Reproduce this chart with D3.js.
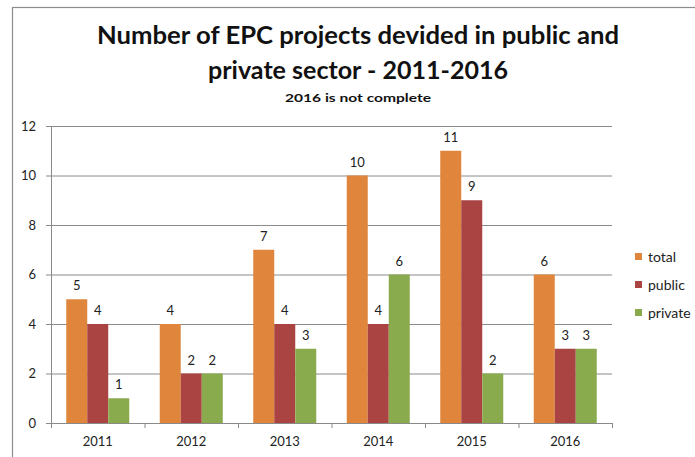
<!DOCTYPE html>
<html>
<head>
<meta charset="utf-8">
<script src="https://cdn.jsdelivr.net/npm/d3@7"></script>
<style>
  body { margin: 0; background: #fff; }
  text { font-family: Lato, "Open Sans", sans-serif; }
</style>
</head>
<body>
<div id="chart"></div>
<script>
// data
const years = ["2011", "2012", "2013", "2014", "2015", "2016"];
const seriesNames = ["total", "public", "private"];
const totalValues = [5, 4, 7, 10, 11, 6];
const publicValues = [4, 2, 4, 4, 9, 3];
const privateValues = [1, 2, 3, 6, 2, 3];
const yTicks = [0, 2, 4, 6, 8, 10, 12];
const titleLines = ["Number of EPC projects devided in public and", "private sector - 2011-2016"];
const subtitle = "2016 is not complete";

const colors = { total: "#E0863C", public: "#A94443", private: "#8AAB4D" };

const W = 695, H = 457;
const margin = { top: 126, right: 83, bottom: 34, left: 51 };
const width = 612 - margin.left,
  height = 423 - margin.top;

const svg = d3.select("#chart").append("svg")
  .attr("width", W)
  .attr("height", H);

// outer chart frame (runs off the picture at right and bottom)
svg.append("rect")
  .attr("x", 12.5).attr("y", 7.5)
  .attr("width", 720).attr("height", 480)
  .attr("fill", "none")
  .attr("stroke", "#8c8c8c")
  .attr("stroke-width", 1.2);

// titles
svg.append("text")
  .attr("x", 358).attr("y", 44)
  .attr("text-anchor", "middle")
  .attr("font-size", 25).attr("font-weight", "bold")
  .attr("textLength", 522).attr("lengthAdjust", "spacingAndGlyphs")
  .attr("fill", "#111")
  .text(titleLines[0]);
svg.append("text")
  .attr("x", 358).attr("y", 79)
  .attr("text-anchor", "middle")
  .attr("font-size", 25).attr("font-weight", "bold")
  .attr("textLength", 300).attr("lengthAdjust", "spacingAndGlyphs")
  .attr("fill", "#111")
  .text(titleLines[1]);
svg.append("text")
  .attr("x", 358).attr("y", 102)
  .attr("text-anchor", "middle")
  .attr("font-size", 12).attr("font-weight", "bold")
  .attr("textLength", 146).attr("lengthAdjust", "spacingAndGlyphs")
  .attr("fill", "#111")
  .text(subtitle);

const g = svg.append("g")
  .attr("transform", `translate(${margin.left},${margin.top})`);

// scales
const x = d3.scaleBand().domain(years).range([0, width]).padding(0);
const inner = d3.scaleBand().domain(seriesNames)
  .range([x.bandwidth() * 0.163, x.bandwidth() * 0.837]).padding(0);
const y = d3.scaleLinear().domain([0, 12]).range([height, 0]);

// gridlines
g.append("g")
  .selectAll("line")
  .data(yTicks.filter((d) => d > 0))
  .join("line")
  .attr("x1", 0).attr("x2", width)
  .attr("y1", (d) => y(d) + 0.5).attr("y2", (d) => y(d) + 0.5)
  .attr("stroke", "#8a8a8a")
  .attr("stroke-width", 1);

// y axis
const yAxis = g.append("g")
  .call(d3.axisLeft(y).tickValues(yTicks).tickSize(5).tickPadding(10));
yAxis.selectAll("path, line").attr("stroke", "#8a8a8a");
yAxis.selectAll("text").attr("font-size", 13).attr("fill", "#222")
  .style("font-family", "Lato, sans-serif");

// bars
const table = years.map((yr, i) => ({
  year: yr,
  values: [
    { key: "total", value: totalValues[i] },
    { key: "public", value: publicValues[i] },
    { key: "private", value: privateValues[i] },
  ],
}));

const groups = g.selectAll(".grp")
  .data(table)
  .join("g")
  .attr("class", "grp")
  .attr("transform", (d) => `translate(${x(d.year)},0)`);

groups.selectAll("rect")
  .data((d) => d.values)
  .join("rect")
  .attr("x", (d) => inner(d.key))
  .attr("width", inner.bandwidth())
  .attr("y", (d) => y(d.value))
  .attr("height", (d) => height - y(d.value))
  .attr("fill", (d) => colors[d.key]);

// value labels
groups.selectAll(".lbl")
  .data((d) => d.values)
  .join("text")
  .attr("class", "lbl")
  .attr("x", (d) => inner(d.key) + inner.bandwidth() / 2)
  .attr("y", (d) => y(d.value) - 9)
  .attr("text-anchor", "middle")
  .attr("font-size", 13)
  .attr("fill", "#222")
  .text((d) => d.value);

// x axis
const xAxis = g.append("g")
  .attr("transform", `translate(0,${height})`)
  .call(d3.axisBottom(x).tickSize(0).tickPadding(14));
xAxis.select(".domain").attr("stroke", "#8a8a8a");
xAxis.selectAll("text").attr("font-size", 13).attr("fill", "#222")
  .style("font-family", "Lato, sans-serif");

// category separator ticks
g.append("g")
  .selectAll("line")
  .data(d3.range(years.length + 1))
  .join("line")
  .attr("x1", (i) => i * x.step() + 0.5)
  .attr("x2", (i) => i * x.step() + 0.5)
  .attr("y1", height).attr("y2", height + 5)
  .attr("stroke", "#8a8a8a");

// legend
const legend = svg.append("g").attr("transform", "translate(635,257)");
const items = legend.selectAll("g")
  .data(seriesNames)
  .join("g")
  .attr("transform", (d, i) => `translate(0,${i * 28})`);
items.append("rect")
  .attr("x", 0).attr("y", -4)
  .attr("width", 7).attr("height", 7)
  .attr("fill", (d) => colors[d]);
items.append("text")
  .attr("x", 13).attr("y", 0)
  .attr("dy", "0.35em")
  .attr("font-size", 14)
  .attr("fill", "#222")
  .text((d) => d);
</script>
</body>
</html>
